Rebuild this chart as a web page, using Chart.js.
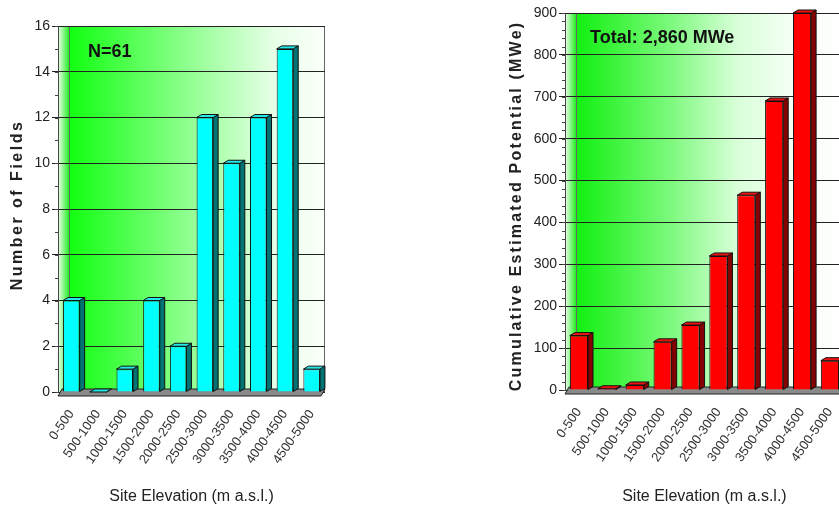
<!DOCTYPE html>
<html>
<head>
<meta charset="utf-8">
<script src="https://cdn.jsdelivr.net/npm/chart.js@4.4.0/dist/chart.umd.min.js"></script>
<style>
  html, body { margin: 0; padding: 0; background: #fff; }
  body { width: 839px; height: 514px; overflow: hidden; position: relative; }
  .box { position: absolute; top: 0; height: 514px; }
  #fieldsBox { left: 0; width: 340px; }
  #potentialBox { left: 490px; width: 360px; }
</style>
</head>
<body>
<div class="box" id="fieldsBox"><canvas id="fieldsChart"></canvas></div>
<div class="box" id="potentialBox"><canvas id="potentialChart"></canvas></div>
<script>
const elevationBands = ['0-500', '500-1000', '1000-1500', '1500-2000', '2000-2500',
  '2500-3000', '3000-3500', '3500-4000', '4000-4500', '4500-5000'];
const fieldCounts = [4, 0, 1, 4, 2, 12, 10, 12, 15, 1];
const potentialMWe = [130, 3, 12, 115, 155, 320, 465, 690, 900, 70];
const fieldTicks = [0, 2, 4, 6, 8, 10, 12, 14, 16];
const potentialTicks = [0, 100, 200, 300, 400, 500, 600, 700, 800, 900];

const narrow = "'Liberation Sans Narrow', 'Liberation Sans', Arial, sans-serif";

// back wall, side strip and floor of the pseudo 3D box
const wallPlugin = {
    id: 'wall',
    beforeDraw(chart, args, opts) {
        const { ctx, chartArea: a } = chart;
        ctx.save();
        const strip = 11;
        let g = ctx.createLinearGradient(a.left, 0, a.left + strip, 0);
        g.addColorStop(0, '#f0fff0');
        g.addColorStop(1, '#22ee22');
        ctx.fillStyle = g;
        ctx.fillRect(a.left, a.top, strip, a.bottom - a.top);
        g = ctx.createLinearGradient(a.left + strip, 0, a.right, 0);
        opts.stops.forEach(s => g.addColorStop(s[0], s[1]));
        ctx.fillStyle = g;
        ctx.fillRect(a.left + strip, a.top, a.right - a.left - strip, a.bottom - a.top);
        ctx.strokeStyle = '#666';
        ctx.lineWidth = 1;
        ctx.strokeRect(a.left + strip + 0.5, a.top + 0.5, a.right - a.left - strip - 1, a.bottom - a.top);
        ctx.restore();
    },
    beforeDatasetsDraw(chart) {
        const { ctx, chartArea: a } = chart;
        ctx.save();
        ctx.fillStyle = '#8a8a8a';
        ctx.strokeStyle = '#222';
        ctx.lineWidth = 1;
        ctx.beginPath();
        ctx.moveTo(a.left + 4, a.bottom - 3);
        ctx.lineTo(a.right, a.bottom - 3);
        ctx.lineTo(a.right - 4, a.bottom + 4);
        ctx.lineTo(a.left, a.bottom + 4);
        ctx.closePath();
        ctx.fill();
        ctx.stroke();
        ctx.restore();
    }
};

// side and top faces for each bar
const bars3dPlugin = {
    id: 'bars3d',
    afterDatasetsDraw(chart, args, opts) {
        const ctx = chart.ctx;
        const d = opts.depth, dy = opts.rise;
        ctx.save();
        ctx.lineWidth = 1;
        ctx.strokeStyle = '#111';
        chart.getDatasetMeta(0).data.forEach(bar => {
            const { x, y, base, width } = bar.getProps(['x', 'y', 'base', 'width'], true);
            const l = x - width / 2, r = x + width / 2;
            ctx.fillStyle = opts.side;
            ctx.beginPath();
            ctx.moveTo(r, y);
            ctx.lineTo(r + d, y - dy);
            ctx.lineTo(r + d, base - dy);
            ctx.lineTo(r, base);
            ctx.closePath();
            ctx.fill();
            ctx.stroke();
            ctx.fillStyle = opts.top;
            ctx.beginPath();
            ctx.moveTo(l, y);
            ctx.lineTo(l + d, y - dy);
            ctx.lineTo(r + d, y - dy);
            ctx.lineTo(r, y);
            ctx.closePath();
            ctx.fill();
            ctx.stroke();
        });
        ctx.restore();
    }
};

// spaced vertical axis title, inner note and minor ticks
const textPlugin = {
    id: 'texts',
    afterDraw(chart, args, opts) {
        const { ctx, chartArea: a } = chart;
        const ys = chart.scales.y;
        ctx.save();
        ctx.strokeStyle = '#444';
        ctx.lineWidth = 1;
        for (let v = ys.min; v <= ys.max; v += opts.minorStep) {
            const py = Math.round(ys.getPixelForValue(v)) + 0.5;
            ctx.beginPath();
            ctx.moveTo(a.left - 3, py);
            ctx.lineTo(a.left, py);
            ctx.stroke();
        }
        ctx.fillStyle = '#222';
        ctx.font = 'bold 16px ' + narrow;
        ctx.letterSpacing = opts.spacing + 'px';
        ctx.textAlign = 'center';
        ctx.textBaseline = 'middle';
        ctx.translate(opts.titleX, opts.titleY);
        ctx.rotate(-Math.PI / 2);
        ctx.fillText(opts.title, 0, 0);
        ctx.restore();
        ctx.save();
        ctx.fillStyle = '#111';
        ctx.font = 'bold 18px ' + narrow;
        ctx.textBaseline = 'middle';
        ctx.fillText(opts.note, opts.noteX, opts.noteY);
        ctx.restore();
    }
};

function makeChart(id, values, ticks, cfg) {
    const ctx = document.getElementById(id).getContext('2d');
    return new Chart(ctx, {
        type: 'bar',
        data: {
            labels: elevationBands,
            datasets: [{
                data: values,
                backgroundColor: cfg.front,
                borderColor: '#111',
                borderWidth: 1,
                barPercentage: cfg.barPct,
                categoryPercentage: 1
            }]
        },
        plugins: [wallPlugin, bars3dPlugin, textPlugin],
        options: {
            responsive: true,
            maintainAspectRatio: false,
            animation: false,
            layout: { padding: { top: cfg.top, right: cfg.right, left: 0, bottom: 0 } },
            plugins: {
                legend: { display: false },
                tooltip: { enabled: false },
                wall: { stops: cfg.stops },
                bars3d: { depth: 5, rise: 3, side: cfg.side, top: cfg.topFace },
                texts: cfg.texts
            },
            scales: {
                x: {
                    grid: { display: false },
                    border: { display: false },
                    ticks: {
                        minRotation: 55, maxRotation: 55, autoSkip: false, padding: 7,
                        color: '#333', font: { family: narrow, size: 13 }
                    },
                    title: {
                        display: true, text: 'Site Elevation (m a.s.l.)', color: '#222',
                        font: { family: narrow, size: 16 }, padding: { top: 0, bottom: 8 }
                    },
                    afterFit(scale) { scale.height = cfg.xHeight; }
                },
                y: {
                    min: 0,
                    max: ticks[ticks.length - 1],
                    afterBuildTicks(scale) { scale.ticks = ticks.map(v => ({ value: v })); },
                    grid: { color: '#222', lineWidth: 1, tickLength: 6 },
                    border: { color: '#444' },
                    ticks: { color: '#222', padding: 2, font: { family: narrow, size: 14 } },
                    afterFit(scale) { scale.width = cfg.yWidth; }
                }
            }
        }
    });
}

makeChart('fieldsChart', fieldCounts, fieldTicks, {
    front: '#00ffff', side: '#007373', topFace: '#22e8e8', barPct: 0.62,
    top: 26, right: 15, yWidth: 58, xHeight: 122,
    stops: [[0, '#11ff11'], [0.45, '#8cff8c'], [0.8, '#e6ffe6'], [1, '#fbfffb']],
    texts: { title: 'Number of Fields', spacing: 2.5, titleX: 18, titleY: 205,
             note: 'N=61', noteX: 88, noteY: 52, minorStep: 1 }
});

makeChart('potentialChart', potentialMWe, potentialTicks, {
    front: '#ff0000', side: '#850000', topFace: '#ee1111', barPct: 0.65,
    top: 13, right: 6, yWidth: 75, xHeight: 124,
    stops: [[0, '#11f011'], [0.35, '#7cf97c'], [0.6, '#d8ffd8'], [0.8, '#f4fff4'], [1, '#ffffff']],
    texts: { title: 'Cumulative Estimated Potential (MWe)', spacing: 2.2, titleX: 27, titleY: 206,
             note: 'Total: 2,860 MWe', noteX: 100, noteY: 38, minorStep: 20 }
});
</script>
</body>
</html>
